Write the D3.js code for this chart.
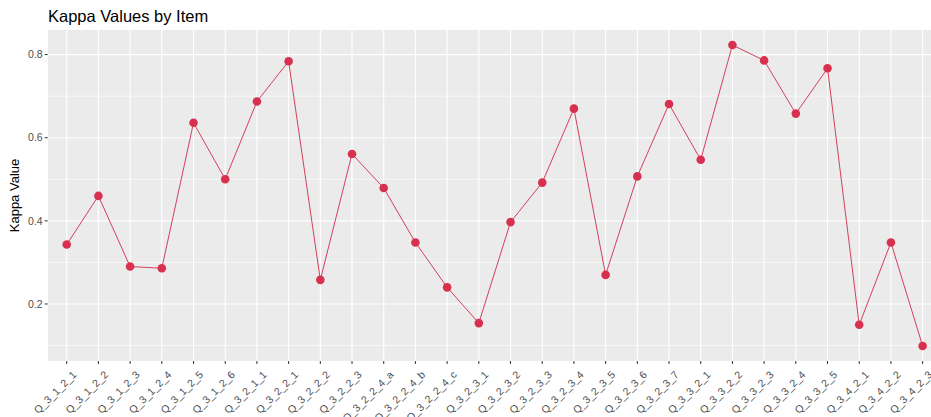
<!DOCTYPE html>
<html><head><meta charset="utf-8">
<script src="https://cdn.jsdelivr.net/npm/d3@7"></script>
<style>body{margin:0;background:#fff}svg{display:block}text{font-family:"Liberation Sans",Arial,sans-serif}</style>
</head><body>
<script>
const items = ["Q_3_1_2_1","Q_3_1_2_2","Q_3_1_2_3","Q_3_1_2_4","Q_3_1_2_5","Q_3_1_2_6","Q_3_2_1_1","Q_3_2_2_1","Q_3_2_2_2","Q_3_2_2_3","Q_3_2_2_4_a","Q_3_2_2_4_b","Q_3_2_2_4_c","Q_3_2_3_1","Q_3_2_3_2","Q_3_2_3_3","Q_3_2_3_4","Q_3_2_3_5","Q_3_2_3_6","Q_3_2_3_7","Q_3_3_2_1","Q_3_3_2_2","Q_3_3_2_3","Q_3_3_2_4","Q_3_3_2_5","Q_3_4_2_1","Q_3_4_2_2","Q_3_4_2_3"];
const kappa = [0.343,0.460,0.290,0.286,0.636,0.500,0.687,0.784,0.258,0.561,0.479,0.348,0.240,0.154,0.397,0.492,0.670,0.270,0.507,0.681,0.547,0.823,0.786,0.658,0.767,0.150,0.348,0.099];
const yTicks = [0.2,0.4,0.6,0.8];
const yMinor = [0.1,0.3,0.5,0.7];
const title = "Kappa Values by Item";
const yTitle = "Kappa Value";

const W = 931, H = 417;
const panel = {left:47.7, top:30, bottom:361};
const step = 31.7;
const panelRight = panel.left + step*(items.length - 1 + 1.2);

const svg = d3.select("body").append("svg").attr("width",W).attr("height",H);

const x = d3.scalePoint().domain(items).range([panel.left+0.6*step, panelRight-0.6*step]);
const lo = d3.min(kappa), hi = d3.max(kappa), pad = (hi-lo)*0.05;
const y = d3.scaleLinear().domain([lo-pad, hi+pad]).range([panel.bottom, panel.top]);

svg.append("defs").append("clipPath").attr("id","clip").append("rect")
  .attr("x",panel.left).attr("y",panel.top).attr("width",panelRight-panel.left).attr("height",panel.bottom-panel.top);

const g = svg.append("g").attr("clip-path","url(#clip)");
g.append("rect").attr("x",panel.left).attr("y",panel.top).attr("width",panelRight-panel.left).attr("height",panel.bottom-panel.top).attr("fill","#EBEBEB");
g.selectAll(".minor").data(yMinor).join("line")
  .attr("x1",panel.left).attr("x2",panelRight).attr("y1",d=>y(d)).attr("y2",d=>y(d))
  .attr("stroke","#fff").attr("stroke-width",0.6);
g.selectAll(".majy").data(yTicks).join("line")
  .attr("x1",panel.left).attr("x2",panelRight).attr("y1",d=>y(d)).attr("y2",d=>y(d))
  .attr("stroke","#fff").attr("stroke-width",1.1);
g.selectAll(".majx").data(items).join("line")
  .attr("x1",d=>x(d)).attr("x2",d=>x(d)).attr("y1",panel.top).attr("y2",panel.bottom)
  .attr("stroke","#fff").attr("stroke-width",1.1);

const pts = items.map((d,i)=>({item:d, v:kappa[i]}));
g.append("path").datum(pts)
  .attr("d", d3.line().x(d=>x(d.item)).y(d=>y(d.v)))
  .attr("fill","none").attr("stroke","#D2405C").attr("stroke-width",1);
g.selectAll("circle").data(pts).join("circle")
  .attr("cx",d=>x(d.item)).attr("cy",d=>y(d.v)).attr("r",4.3).attr("fill","#D8304F");

// y axis
const ya = svg.append("g");
ya.selectAll("line").data(yTicks).join("line")
  .attr("x1",panel.left-3).attr("x2",panel.left).attr("y1",d=>y(d)).attr("y2",d=>y(d))
  .attr("stroke","#333").attr("stroke-width",1);
ya.selectAll("text").data(yTicks).join("text")
  .attr("x",panel.left-5).attr("y",d=>y(d)).attr("dy","0.35em").attr("text-anchor","end")
  .attr("font-size",10.5).attr("fill","#4D4D4D").text(d=>d3.format(".1f")(d));

// x axis
const xa = svg.append("g");
xa.selectAll("line").data(items).join("line")
  .attr("x1",d=>x(d)).attr("x2",d=>x(d)).attr("y1",panel.bottom).attr("y2",panel.bottom+3)
  .attr("stroke","#333").attr("stroke-width",1);
xa.selectAll("text").data(items).join("text")
  .attr("transform",d=>`translate(${x(d)+5},${panel.bottom+9}) rotate(-45)`)
  .attr("text-anchor","end").attr("dy","0.72em")
  .attr("font-size",10.5).attr("fill","#4D4D4D").text(d=>d);

svg.append("text").attr("x",48).attr("y",22).attr("font-size",16.5).attr("fill","#000").text(title);
svg.append("text").attr("transform",`translate(19,${(panel.top+panel.bottom)/2}) rotate(-90)`)
  .attr("text-anchor","middle").attr("font-size",13).attr("fill","#000").text(yTitle);
</script>
</body></html>
